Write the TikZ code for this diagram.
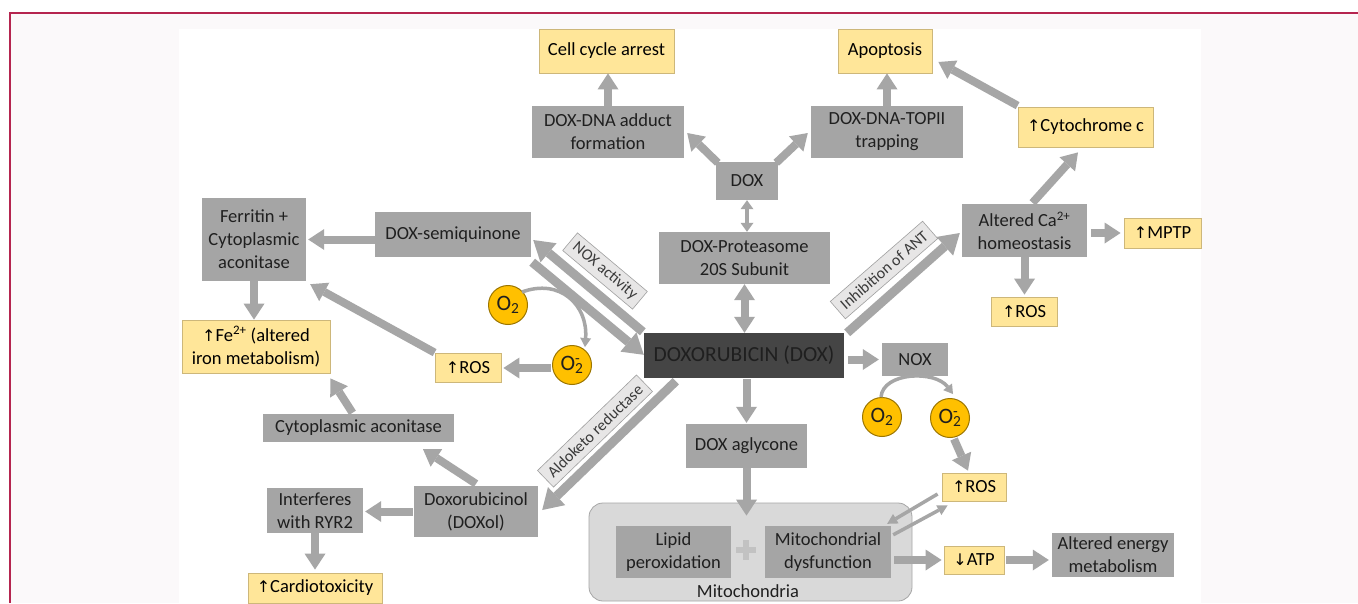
\documentclass[tikz,border=0pt]{standalone}
\usepackage{fontspec}
\setmainfont{Carlito}
\newfontfamily\symfam{DejaVu Sans}
\usetikzlibrary{arrows.meta,shapes.geometric}
\newcommand{\upA}{{\symfam\fontsize{16pt}{16pt}\selectfont ↑}}
\newcommand{\dnA}{{\symfam\fontsize{16pt}{16pt}\selectfont ↓}}
\definecolor{boxg}{HTML}{A5A5A5}
\definecolor{arrg}{HTML}{A6A6A6}
\definecolor{yel}{HTML}{FFE699}
\definecolor{yelb}{HTML}{CDB77A}
\definecolor{darkb}{HTML}{454545}
\definecolor{txt}{HTML}{1F1F1F}
\definecolor{orng}{HTML}{FFC000}
\definecolor{orngb}{HTML}{9C7600}
\definecolor{mitof}{HTML}{D9D9D9}
\definecolor{mitob}{HTML}{A6A6A6}
\definecolor{labf}{HTML}{E7E6E6}
\definecolor{labb}{HTML}{A0A0A0}
\definecolor{labt}{HTML}{3A3A3A}
\definecolor{framec}{HTML}{B5254F}
\definecolor{pagebg}{HTML}{FBF9FA}
\definecolor{plusg}{HTML}{C2C2C2}
\tikzset{
  sz/.style 2 args={minimum width=#1pt, minimum height=#2pt},
  boxfont/.style={font=\fontsize{18.5pt}{23pt}\selectfont},
  gbox/.style={fill=boxg, text=txt, boxfont, align=center, inner sep=0pt},
  ybox/.style={fill=yel, draw=yelb, line width=0.8pt, text=black, boxfont, align=center, inner sep=0pt},
  dbox/.style={fill=darkb, text=black!88, font=\fontsize{21.5pt}{24pt}\selectfont, align=center, inner sep=0pt},
  oxy/.style={circle, fill=orng, draw=orngb, line width=1pt, minimum size=39pt, inner sep=0pt, text=txt, font=\fontsize{22pt}{22pt}\selectfont},
  mitobox/.style={rounded corners=14pt, fill=mitof, draw=mitob, line width=0.8pt},
  plaintext/.style={text=txt, boxfont, inner sep=0pt},
  lab/.style={fill=labf, draw=labb, line width=0.6pt, text=labt, font=\fontsize{16pt}{16pt}\selectfont, inner xsep=6pt, inner ysep=0pt, minimum height=23pt},
  blk/.style={draw=arrg, line width=8pt, -{Triangle[width=21pt,length=16pt,line width=0pt]}},
  bigA/.style={draw=arrg, line width=9pt, -{Triangle[width=25pt,length=20pt,line width=0pt]}},
  dblk/.style={draw=arrg, line width=8pt, {Triangle[width=21pt,length=16pt,line width=0pt]}-{Triangle[width=21pt,length=16pt,line width=0pt]}},
  sdbl/.style={draw=arrg, line width=4.5pt, {Triangle[width=13pt,length=9pt,line width=0pt]}-{Triangle[width=13pt,length=9pt,line width=0pt]}},
  thinA/.style={draw=arrg, line width=3.5pt, -{Triangle[width=11pt,length=10pt,line width=0pt]}},
  curA/.style={draw=arrg, line width=3.5pt, -{Triangle[width=11pt,length=9pt,line width=0pt]}},
}
\begin{document}
\begin{tikzpicture}[x=1pt,y=-1pt]
\useasboundingbox (0,0) rectangle (1358,603);
% page background and frame
\fill[white] (0,0) rectangle (1358,603);
\fill[pagebg] (10,13) rectangle (1358,603);
\fill[white] (179,29) rectangle (1201,603);
\draw[framec, line width=1.8pt] (10,603) -- (10,13) -- (1358,13);

% mitochondria container
\node[mitobox, sz={323}{98}] (mito) at (750.5,552) {};
\node[plaintext] (mitolbl) at (748,591) {Mitochondria};

% nodes
\node[ybox, sz={135}{44}] (cell) at (606.5,51) {Cell cycle arrest};
\node[ybox, sz={94}{44}] (apop) at (885,51) {Apoptosis};
\node[gbox, sz={152}{52}] (adduct) at (608,132) {DOX-DNA adduct\\formation};
\node[gbox, sz={152}{52}] (trap) at (887,132) {DOX-DNA-TOPII\\trapping};
\node[ybox, sz={135}{40}] (cyto) at (1085.5,127) {\upA Cytochrome c};
\node[gbox, sz={62}{38}] (dox) at (747,181) {DOX};
\node[gbox, sz={171}{52}] (prot) at (744.5,258) {DOX-Proteasome\\20S Subunit};
\node[dbox, sz={200}{45}] (doxo) at (744,355.5) {DOXORUBICIN (DOX)};
\node[gbox, sz={66}{33}] (nox) at (915,359.5) {NOX};
\node[gbox, sz={104}{83}] (ferr) at (254,239.5) {Ferritin +\\Cytoplasmic\\aconitase};
\node[gbox, sz={156}{45}] (semi) at (453,234.5) {DOX-semiquinone};
\node[ybox, sz={148}{53}] (fe) at (256,346.5) {\upA Fe\textsuperscript{2+} (altered\\iron metabolism)};
\node[ybox, sz={66}{29}] (rosL) at (468,367.5) {\upA ROS};
\node[oxy] (o2L) at (508,305) {O\textsubscript{2}};
\node[oxy] (o2mL) at (572,365) {O\rlap{\textsuperscript{-}}\textsubscript{2}};
\node[gbox, sz={191}{28}] (aco) at (358.5,428) {Cytoplasmic aconitase};
\node[gbox, sz={124}{51}] (doxol) at (476,511.5) {Doxorubicinol\\(DOXol)};
\node[gbox, sz={96}{45}] (ryr) at (315,510.5) {Interferes\\with RYR2};
\node[ybox, sz={134}{30}] (cardio) at (315,588) {\upA Cardiotoxicity};
\node[gbox, sz={125}{53}] (altca) at (1024.5,230.5) {Altered Ca\textsuperscript{2+}\\homeostasis};
\node[ybox, sz={77}{30}] (mptp) at (1162.5,233) {\upA MPTP};
\node[ybox, sz={66}{29}] (rosR) at (1024,311.5) {\upA ROS};
\node[oxy] (o2R) at (882,417) {O\textsubscript{2}};
\node[oxy] (o2mR) at (950,418) {O\rlap{\textsuperscript{-}}\textsubscript{2}};
\node[ybox, sz={64}{28}] (rosM) at (974,487) {\upA ROS};
\node[gbox, sz={121}{44}] (agly) at (746.5,446) {DOX aglycone};
\node[gbox, sz={115}{52}] (lipid) at (673.5,552) {Lipid\\peroxidation};
\node[gbox, sz={126}{52}] (dysf) at (828,552) {Mitochondrial\\dysfunction};
\fill[plusg] (736,547) rectangle (756,553);
\fill[plusg] (743,540) rectangle (749,560);
\node[ybox, sz={60}{28}] (atp) at (974,560) {\dnA ATP};
\node[gbox, sz={122}{44}] (energy) at (1113,555) {Altered energy\\metabolism};

% labels on arrows
\node[lab, rotate=-40] (noxlab) at (605,271) {NOX activity};
\node[lab, rotate=41] (antlab) at (884,270) {Inhibition of ANT};
\node[lab, rotate=44] (aldolab) at (595,431) {Aldoketo reductase};

% connectors
\draw[blk] (adduct.north) -- (adduct.north |- cell.south);
\draw[blk] (trap.north) -- (trap.north |- apop.south);
\draw[blk] ([shift={(2,1)}]dox.north west) -- ([shift={(3,1)}]adduct.east);
\draw[blk] ([shift={(-2,1)}]dox.north east) -- ([shift={(-3,1)}]trap.west);
\draw[sdbl] (dox.south) -- (dox.south |- prot.north);
\draw[dblk] (prot.south) -- (prot.south |- doxo.north);
\draw[bigA] ([shift={(-1,-1)}]doxo.north west) -- ([shift={(2,5.5)}]semi.east);
\draw[bigA] ([shift={(1,5)}]semi.south east) -- ([shift={(0,22)}]doxo.north west);
\draw[blk] (semi.west |- ferr.east) -- ([xshift=2pt]ferr.east);
\draw[blk] (ferr.south) -- (ferr.south |- fe.north);
\draw[blk] ([shift={(-1,3)}]o2mL.west) -- ([shift={(2,0.5)}]rosL.east);
\draw[blk] (rosL.north west) -- ([shift={(4,3)}]ferr.south east);
\draw[curA] ([shift={(14,-13)}]o2L.center) .. controls +(38,-14) and +(3,-42) .. ([shift={(13,-18)}]o2mL.center);
\draw[blk] ([shift={(-6,-1)}]aco.north) -- ([shift={(0,5)}]fe.south east);
\draw[blk] ([shift={(0,-2)}]doxol.north) -- ([shift={(64.5,7)}]aco.south);
\draw[blk] ([xshift=-1pt]doxol.west) -- ([xshift=2pt]doxol.west -| ryr.east);
\draw[blk] (ryr.south) -- ([yshift=3pt]ryr.south |- cardio.north);
\draw[bigA] ([shift={(32,3)}]doxo.south west) -- ([shift={(4,-1.5)}]doxol.east);
\draw[bigA] ([shift={(3,0)}]doxo.north east) -- ([shift={(-2,2.5)}]altca.west);
\draw[blk] ([shift={(8,-1)}]altca.north) -- ([shift={(-7.5,5)}]cyto.south);
\draw[blk] ([shift={(0,-1)}]cyto.north west) -- ([shift={(6,11)}]apop.east);
\draw[blk] ([xshift=4pt]altca.east |- mptp.west) -- ([xshift=-3pt]mptp.west);
\draw[blk] (altca.south) -- ([yshift=2pt]altca.south |- rosR.north);
\draw[blk] ([xshift=4pt]doxo.east |- nox.west) -- ([xshift=-3pt]nox.west);
\draw[curA] ([shift={(-1,-20)}]o2R.center) .. controls +(2,-25) and +(-18,-24) .. ([shift={(3,-24)}]o2mR.center);
\draw[blk] ([shift={(4,21)}]o2mR.center) -- ([shift={(-6,-2)}]rosM.north);
\draw[blk] ([yshift=-1pt]doxo.south -| agly.north) -- ([yshift=1pt]agly.north);
\draw[blk] (agly.south) -- ([yshift=-13pt]agly.south |- mito.north);
\draw[thinA] ([shift={(-4,7)}]rosM.west) -- ([shift={(-4,-2)}]dysf.north east);
\draw[thinA] ([shift={(2,9)}]dysf.north east) -- ([shift={(6,4)}]rosM.south west);
\draw[blk] ([xshift=3pt]dysf.east |- atp.west) -- ([xshift=-2pt]atp.west);
\draw[blk] ([xshift=2pt]atp.east) -- ([xshift=-3pt]atp.east -| energy.west);
\end{tikzpicture}
\end{document}
